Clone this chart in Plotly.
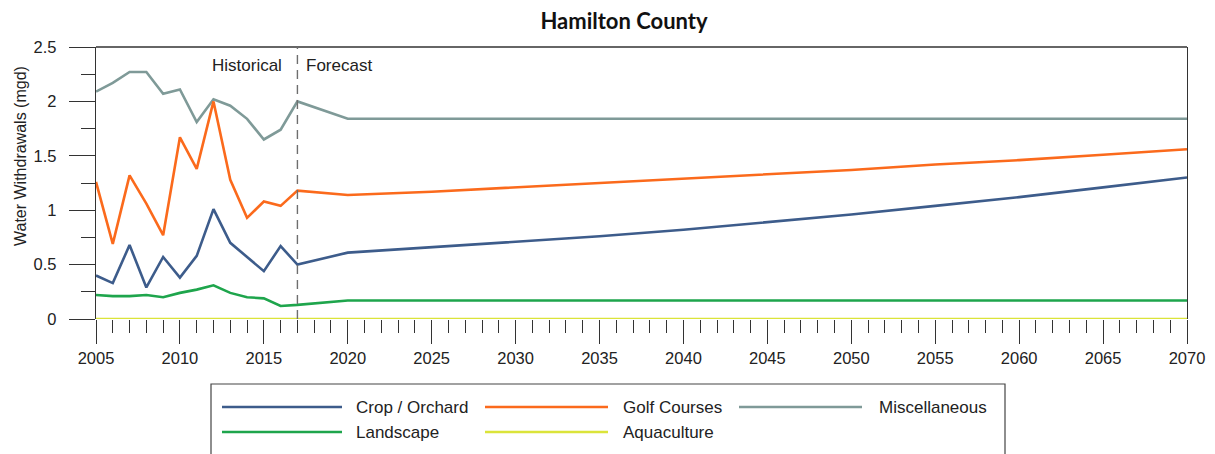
import plotly.graph_objects as go

# ---------------- data ----------------
years = [2005, 2006, 2007, 2008, 2009, 2010, 2011, 2012, 2013, 2014, 2015, 2016, 2017,
         2020, 2025, 2030, 2035, 2040, 2045, 2050, 2055, 2060, 2065, 2070]

crop_orchard = [0.40, 0.33, 0.68, 0.29, 0.57, 0.38, 0.58, 1.01, 0.70, 0.57, 0.44, 0.67, 0.50,
                0.61, 0.66, 0.71, 0.76, 0.82, 0.89, 0.96, 1.04, 1.12, 1.21, 1.30]
golf_courses = [1.26, 0.69, 1.32, 1.06, 0.77, 1.67, 1.38, 2.00, 1.28, 0.93, 1.08, 1.04, 1.18,
                1.14, 1.17, 1.21, 1.25, 1.29, 1.33, 1.37, 1.42, 1.46, 1.51, 1.56]
miscellaneous = [2.09, 2.17, 2.27, 2.27, 2.07, 2.11, 1.81, 2.02, 1.96, 1.84, 1.65, 1.74, 2.00,
                 1.84, 1.84, 1.84, 1.84, 1.84, 1.84, 1.84, 1.84, 1.84, 1.84, 1.84]
landscape = [0.22, 0.21, 0.21, 0.22, 0.20, 0.24, 0.27, 0.31, 0.24, 0.20, 0.19, 0.12, 0.13,
             0.17, 0.17, 0.17, 0.17, 0.17, 0.17, 0.17, 0.17, 0.17, 0.17, 0.17]
aquaculture = [0.0, 0.0, 0.0, 0.0, 0.0, 0.0, 0.0, 0.0, 0.0, 0.0, 0.0, 0.0, 0.0,
               0.0, 0.0, 0.0, 0.0, 0.0, 0.0, 0.0, 0.0, 0.0, 0.0, 0.0]

series_names = ["Crop / Orchard", "Golf Courses", "Miscellaneous", "Landscape", "Aquaculture"]
series_values = [crop_orchard, golf_courses, miscellaneous, landscape, aquaculture]
series_colors = ["#3d5c8b", "#fb6a1c", "#7f9a98", "#1ea54c", "#dbe43a"]

split_year = 2017
x_ticks = list(range(2005, 2071, 5))

# ---------------- layout geometry ----------------
W, H = 1215, 454          # window size
OFF = 8                   # default body margin of the html page
L, R, T, B = 96, 1187, 47, 319  # plot area in window pixels


def px(x):
    return (x - L) / (R - L)


def py(y):
    return (B - y) / (B - T)


FONT = "Liberation Sans, Arial, sans-serif"
AXC = "#333333"
TXT = "#222222"

fig = go.Figure()

order = [2, 1, 0, 3, 4]
for i in order:
    fig.add_trace(go.Scatter(
        x=years, y=series_values[i], name=series_names[i], mode="lines",
        line=dict(color=series_colors[i], width=2.6),
        cliponaxis=False, showlegend=False,
    ))

shapes = []
annotations = []

# top frame line (bottom edge is the zero line, covered by the Aquaculture series)
shapes.append(dict(type="line", xref="paper", yref="paper", x0=0, x1=1, y0=1, y1=1,
                   line=dict(color=AXC, width=1.3)))

# Historical / Forecast divider
shapes.append(dict(type="line", xref="x", yref="paper", x0=split_year, x1=split_year,
                   y0=0, y1=1, line=dict(color="#6e6e6e", width=1.4, dash="9px,6px")))
annotations.append(dict(text="Historical", xref="x", yref="paper", x=split_year, y=py(65),
                        xanchor="right", yanchor="middle", xshift=-13, showarrow=False,
                        font=dict(family=FONT, size=17, color=TXT)))
annotations.append(dict(text="Forecast", xref="x", yref="paper", x=split_year, y=py(65),
                        xanchor="left", yanchor="middle", xshift=7, showarrow=False,
                        font=dict(family=FONT, size=17, color=TXT)))

# y-axis title
annotations.append(dict(text="Water Withdrawals (mgd)", xref="paper", yref="paper",
                        x=px(20), y=py(156), xanchor="center", yanchor="middle",
                        textangle=-90, showarrow=False,
                        font=dict(family=FONT, size=16, color=TXT)))

# custom legend (long line samples, boxed)
shapes.append(dict(type="rect", xref="paper", yref="paper", x0=px(211), x1=px(1005),
                   y0=py(456), y1=py(384), line=dict(color="#444444", width=1.2),
                   fillcolor="rgba(0,0,0,0)"))
legend_pos = [
    (222, 342, 354, 407),  # Crop / Orchard
    (485, 608, 621, 407),  # Golf Courses
    (739, 862, 877, 407),  # Miscellaneous
    (222, 342, 354, 432),  # Landscape
    (485, 608, 621, 432),  # Aquaculture
]
for i, (lx0, lx1, tx, ly) in enumerate(legend_pos):
    shapes.append(dict(type="line", xref="paper", yref="paper", x0=px(lx0), x1=px(lx1),
                       y0=py(ly), y1=py(ly), line=dict(color=series_colors[i], width=2.6)))
    annotations.append(dict(text=series_names[i], xref="paper", yref="paper", x=px(tx), y=py(ly),
                            xanchor="left", yanchor="middle", showarrow=False,
                            font=dict(family=FONT, size=17, color=TXT)))

fig.update_layout(
    width=W - OFF, height=H - OFF,
    margin=dict(l=L - OFF, r=W - R, t=T - OFF, b=H - B, autoexpand=False),
    paper_bgcolor="white", plot_bgcolor="white",
    title=dict(text="<b>Hamilton County</b>", xref="container", x=(624 - OFF) / (W - OFF),
               xanchor="center", yref="container", y=1 - (21 - OFF) / (H - OFF),
               yanchor="middle",
               font=dict(family="Lato, Carlito, sans-serif", size=22, color="#111111")),
    shapes=shapes, annotations=annotations,
    showlegend=False,
)

fig.update_xaxes(
    range=[2005, 2070], tickvals=x_ticks, ticks="outside", ticklen=24, tickwidth=1.3,
    tickcolor=AXC, showline=False,
    showgrid=False, zeroline=False, layer="below traces",
    tickfont=dict(family=FONT, size=16.5, color=TXT),
    minor=dict(dtick=1, ticks="outside", ticklen=13, tickwidth=1.3, tickcolor=AXC, showgrid=False),
)
fig.update_yaxes(
    range=[0, 2.5], dtick=0.5, tick0=0, ticks="outside", ticklen=26, tickwidth=1.3,
    tickcolor=AXC, showline=True, linecolor=AXC, linewidth=1.3, mirror=True,
    showgrid=False, zeroline=False, layer="below traces", ticklabelstandoff=9,
    tickfont=dict(family=FONT, size=16.5, color=TXT),
    minor=dict(dtick=0.25, ticks="outside", ticklen=14, tickwidth=1.3, tickcolor=AXC, showgrid=False),
)

fig.write_html("out.html")
